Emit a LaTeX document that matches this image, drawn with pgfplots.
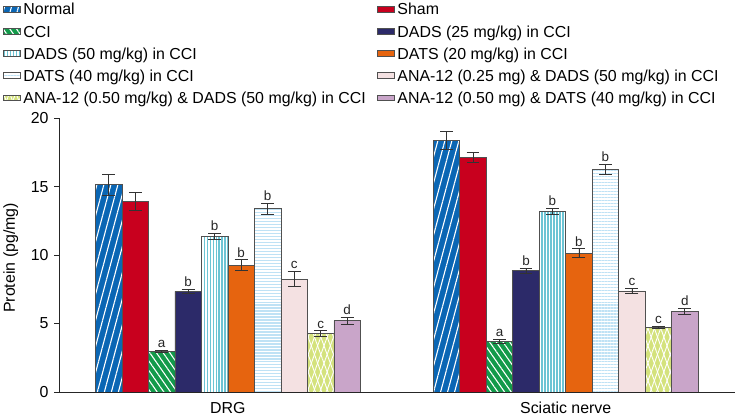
\documentclass[border=0pt]{standalone}
\usepackage{pgfplots}
\pgfplotsset{compat=1.18}
\usepackage{fontspec}
\setmainfont{Liberation Sans}
\usetikzlibrary{patterns.meta}

\definecolor{cNormal}{HTML}{0A66B4}
\definecolor{cSham}{HTML}{C8001E}
\definecolor{cCCI}{HTML}{129A4A}
\definecolor{cDADSa}{HTML}{2C2A69}
\definecolor{cDADSb}{HTML}{6CC4D4}
\definecolor{cDATSa}{HTML}{E6640F}
\definecolor{cDATSb}{HTML}{BFE2F5}
\definecolor{cANAa}{HTML}{F4E1E2}
\definecolor{cANAb}{HTML}{D4E27C}
\definecolor{cANAc}{HTML}{C9A5C9}
\definecolor{cEdge}{HTML}{505050}

\newcommand{\bigf}{\fontsize{16}{19}\selectfont}

\pgfplotsset{
  mybar/.style={ybar, bar width=0.0784, bar shift=0pt, draw=cEdge, line width=0.7pt,
    area legend,
    error bars/y dir=both, error bars/y explicit,
    error bars/error bar style={color=black!80, line width=0.8pt},
    error bars/error mark options={rotate=90, mark size=6.5pt, line width=0.8pt, color=black!80}},
  letters/.style={draw=none, mark=none, forget plot, nodes near coords,
    point meta=explicit symbolic,
    nodes near coords style={anchor=south, inner sep=2.5pt, font=\fontsize{13.5}{16}\selectfont, text=black!85}},
}

\begin{document}
\begin{tikzpicture}[font=\bigf]
\begin{axis}[
  scale only axis,
  width=679pt, height=275pt,
  xmin=0, xmax=2, ymin=0, ymax=20,
  font=\bigf,
  tick label style={font=\bigf},
  label style={font=\bigf},
  axis lines*=left,
  axis line style={color=black!85, line width=0.8pt},
  tick align=outside,
  major tick length=5pt,
  tick style={color=black!85, line width=0.8pt},
  ytick={0,5,10,15,20},
  yticklabel style={xshift=-2pt},
  xtick={0.5,1.5},
  xticklabels={DRG, Sciatic nerve},
  xticklabel style={inner sep=0pt, anchor=north, text height=11.5pt, text depth=2.5pt, yshift=-4.5pt},
  x tick style={draw=none},
  extra x ticks={1},
  extra x tick labels={},
  extra x tick style={tick style={draw=black!85, line width=0.8pt}},
  ylabel={Protein (pg/mg)},
  ylabel style={at={(axis description cs:-0.0715,0.49)}, anchor=center},
  /pgf/number format/assume math mode=true,
  legend columns=2,
  legend cell align=left,
  legend style={draw=none, fill=none, at={(-0.0825,1.4327)}, anchor=north west,
    inner sep=0pt, outer sep=0pt, row sep=4pt, font=\bigf,
    nodes={inner xsep=2.5pt, inner ysep=0pt, text height=15pt, text depth=3.3pt},
    /tikz/every even column/.append style={column sep=9pt}},
  legend image code/.code={\draw[#1] (0pt,-5.5pt) rectangle (22pt,5.5pt);},
]
% Normal
\addplot[mybar, fill=cNormal, postaction={pattern={Lines[angle=75,distance=6.8pt,line width=1.1pt]}, pattern color=white}]
  coordinates {(0.1472,15.15) +- (0,0.75) (1.1472,18.38) +- (0,0.65)};
\addlegendentry{Normal}
% Sham
\addplot[mybar, fill=cSham]
  coordinates {(0.2256,13.96) +- (0,0.65) (1.2256,17.16) +- (0,0.35)};
\addlegendentry{Sham}
% CCI
\addplot[mybar, fill=cCCI, postaction={pattern={Lines[angle=-55,distance=5.5pt,line width=1.1pt]}, pattern color=white}]
  coordinates {(0.3040,2.96) +- (0,0.10) (1.3040,3.68) +- (0,0.15)};
\addlegendentry{CCI}
% DADS 25
\addplot[mybar, fill=cDADSa]
  coordinates {(0.3824,7.35) +- (0,0.15) (1.3824,8.87) +- (0,0.20)};
\addlegendentry{DADS (25 mg/kg) in CCI}
% DADS 50
\addplot[mybar, fill=cDADSb, postaction={pattern={Lines[angle=90,distance=3pt,line width=1.2pt]}, pattern color=white}]
  coordinates {(0.4608,11.37) +- (0,0.20) (1.4608,13.19) +- (0,0.20)};
\addlegendentry{DADS (50 mg/kg) in CCI}
% DATS 20
\addplot[mybar, fill=cDATSa]
  coordinates {(0.5392,9.26) +- (0,0.40) (1.5392,10.16) +- (0,0.30)};
\addlegendentry{DATS (20 mg/kg) in CCI}
% DATS 40
\addplot[mybar, fill=white, postaction={pattern={Lines[angle=0,distance=3pt,line width=1.3pt]}, pattern color=cDATSb}]
  coordinates {(0.6176,13.41) +- (0,0.40) (1.6176,16.27) +- (0,0.40)};
\addlegendentry{DATS (40 mg/kg) in CCI}
% ANA 0.25 + DADS
\addplot[mybar, fill=cANAa]
  coordinates {(0.6960,8.24) +- (0,0.55) (1.6960,7.39) +- (0,0.20)};
\addlegendentry{ANA-12 (0.25 mg) \& DADS (50 mg/kg) in CCI}
% ANA 0.50 + DADS
\addplot[mybar, fill=cANAb,
  postaction={pattern={Lines[angle=70,distance=6pt,line width=0.9pt]}, pattern color=white},
  postaction={pattern={Lines[angle=110,distance=6pt,line width=0.9pt]}, pattern color=white}]
  coordinates {(0.7744,4.27) +- (0,0.20) (1.7744,4.73) +- (0,0.10)};
\addlegendentry{ANA-12 (0.50 mg/kg) \& DADS (50 mg/kg) in CCI}
% ANA 0.50 + DATS
\addplot[mybar, fill=cANAc]
  coordinates {(0.8528,5.21) +- (0,0.25) (1.8528,5.89) +- (0,0.20)};
\addlegendentry{ANA-12 (0.50 mg) \& DATS (40 mg/kg) in CCI}
% significance letters
\addplot[letters] coordinates {
  (0.3040,3.06)[a] (0.3824,7.50)[b] (0.4608,11.57)[b] (0.5392,9.66)[b]
  (0.6176,13.81)[b] (0.6960,8.79)[c] (0.7744,4.47)[c] (0.8528,5.46)[d]
  (1.3040,3.83)[a] (1.3824,9.07)[b] (1.4608,13.39)[b] (1.5392,10.46)[b]
  (1.6176,16.67)[b] (1.6960,7.59)[c] (1.7744,4.83)[c] (1.8528,6.09)[d]};
\end{axis}
\end{tikzpicture}
\end{document}
